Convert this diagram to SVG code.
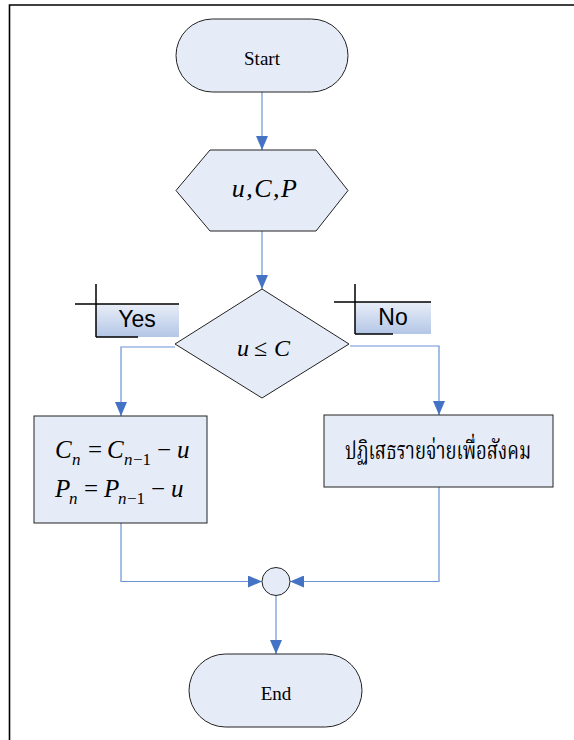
<svg xmlns="http://www.w3.org/2000/svg" width="574" height="740" viewBox="0 0 574 740">
<style>
.node{fill:#e6ecf7;stroke:#222;stroke-width:1}
.conn{fill:none;stroke:#6b93d3;stroke-width:1.2}
.tagline{fill:none;stroke:#000;stroke-width:1.5}
.serif{font-family:"Liberation Serif","Times New Roman",serif;fill:#000}
.it{font-style:italic}
.sans{font-family:"Liberation Sans",Arial,sans-serif;fill:#000}
.thai{font-family:"Liberation Serif","Noto Serif Thai","Noto Sans Thai","DejaVu Serif",serif;fill:#000}
</style>
<defs>
<marker id="arr" markerUnits="userSpaceOnUse" markerWidth="14" markerHeight="12" refX="14" refY="6" orient="auto">
<path d="M0,0 L14,6 L0,12 z" fill="#4472c4"/>
</marker>
<linearGradient id="tagg" x1="0" y1="0" x2="0" y2="1">
<stop offset="0" stop-color="#e9eef8"/>
<stop offset="1" stop-color="#b3c6e6"/>
</linearGradient>
</defs>
<rect width="574" height="740" fill="#fff"/>
<path d="M9.5,740 V5 H574" fill="none" stroke="#000" stroke-width="1.6"/>

<g id="connectors">
<path class="conn" d="M262,92 V150" marker-end="url(#arr)"/>
<path class="conn" d="M262,231 V289" marker-end="url(#arr)"/>
<path class="conn" d="M175,347 H121 V416" marker-end="url(#arr)"/>
<path class="conn" d="M350,346 H439 V415" marker-end="url(#arr)"/>
<path class="conn" d="M121,523 V581.5 H262" marker-end="url(#arr)"/>
<path class="conn" d="M439,487 V581.5 H290" marker-end="url(#arr)"/>
<path class="conn" d="M276,595.5 V654" marker-end="url(#arr)"/>
</g>

<g id="start">
<rect class="node" x="176" y="19" width="172" height="73" rx="36.5" ry="36.5"/>
<text class="serif" x="262" y="65" font-size="19" text-anchor="middle">Start</text>
</g>

<g id="input">
<polygon class="node" points="176,190.5 210,150 316,150 348,190.5 316,231 210,231"/>
<text class="serif it" x="265" y="197" font-size="26" text-anchor="middle" letter-spacing="1.5">u,C,P</text>
</g>

<g id="decision">
<polygon class="node" points="262,289 349,344 262,398 175,344"/>
<text class="serif" y="356" font-size="24"><tspan class="it" x="237">u</tspan><tspan x="254">≤</tspan><tspan class="it" x="274">C</tspan></text>
</g>

<g id="yes-label">
<rect x="96" y="304" width="83" height="33" fill="url(#tagg)"/>
<path class="tagline" d="M96,284 V337 M75,304 H179 M96,337 H138"/>
<text class="sans" x="137" y="327" font-size="23" text-anchor="middle">Yes</text>
</g>

<g id="no-label">
<rect x="355" y="302" width="76" height="32" fill="url(#tagg)"/>
<path class="tagline" d="M355,284 V334 M334,302 H431 M355,334 H393"/>
<text class="sans" x="393" y="325" font-size="23" text-anchor="middle">No</text>
</g>

<g id="update">
<rect class="node" x="34" y="416" width="173" height="107"/>
<text class="serif" font-size="25">
<tspan class="it" x="55" y="458">C</tspan><tspan class="it" x="72" y="465" font-size="17">n</tspan><tspan x="88" y="458">=</tspan><tspan class="it" x="107" y="458">C</tspan><tspan class="it" x="124" y="465" font-size="17">n</tspan><tspan x="133" y="465" font-size="17">−1</tspan><tspan x="157" y="458">−</tspan><tspan class="it" x="177" y="458">u</tspan>
</text>
<text class="serif" font-size="25">
<tspan class="it" x="55" y="497">P</tspan><tspan class="it" x="69" y="504" font-size="17">n</tspan><tspan x="84" y="497">=</tspan><tspan class="it" x="104" y="497">P</tspan><tspan class="it" x="118" y="504" font-size="17">n</tspan><tspan x="127" y="504" font-size="17">−1</tspan><tspan x="151" y="497">−</tspan><tspan class="it" x="171" y="497">u</tspan>
</text>
</g>

<g id="reject">
<rect class="node" x="324" y="415" width="229" height="72"/>
<text class="thai" x="345" y="459" font-size="24" textLength="186" lengthAdjust="spacingAndGlyphs">ปฏิเสธรายจ่ายเพื่อสังคม</text>
</g>

<g id="merge">
<circle class="node" cx="276" cy="581.5" r="14"/>
</g>

<g id="end">
<rect class="node" x="189" y="654" width="173" height="73" rx="36.5" ry="36.5"/>
<text class="serif" x="276" y="700" font-size="19" text-anchor="middle">End</text>
</g>
</svg>
